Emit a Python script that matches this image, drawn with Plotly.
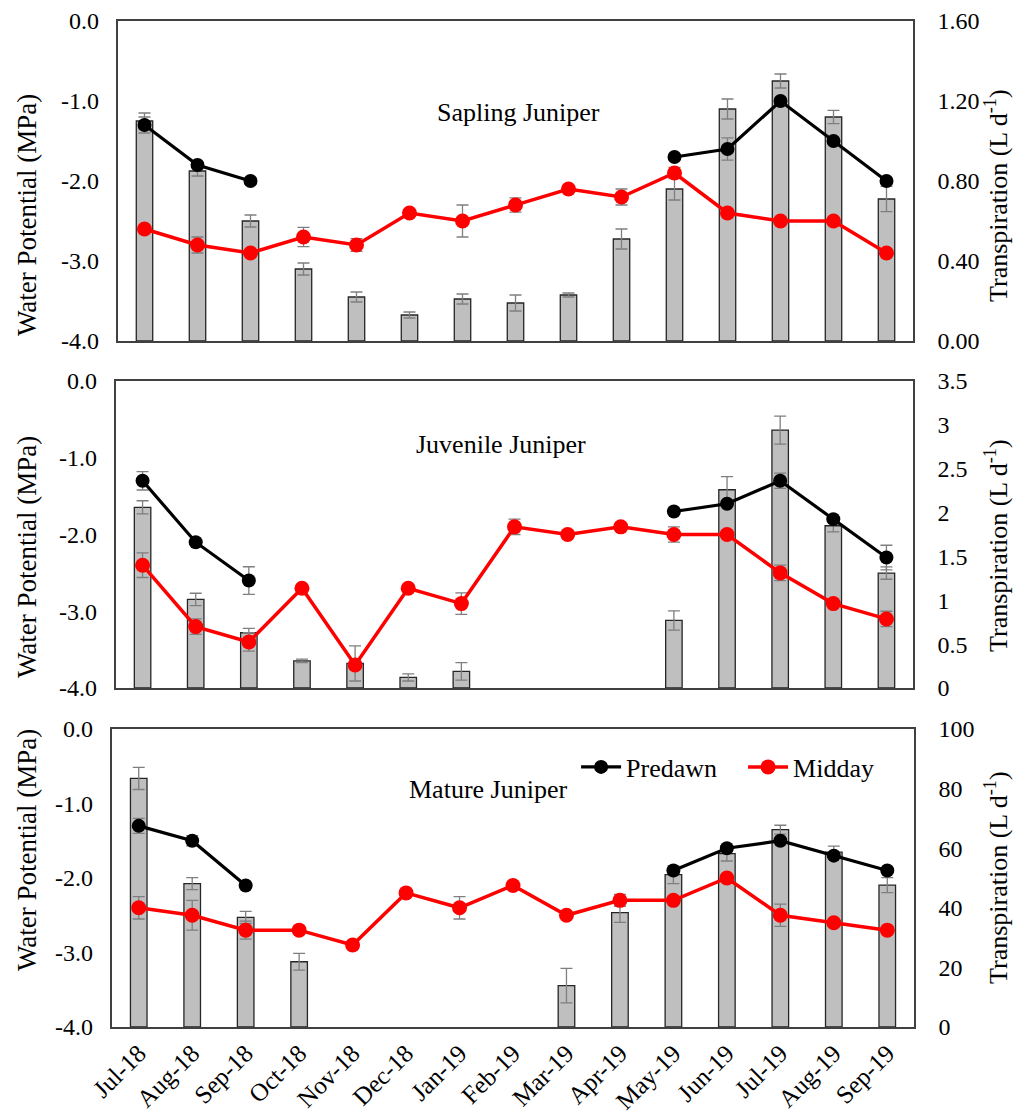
import plotly.graph_objects as go

# ---- data -------------------------------------------------------------
months = ['Jul-18', 'Aug-18', 'Sep-18', 'Oct-18', 'Nov-18', 'Dec-18', 'Jan-19',
          'Feb-19', 'Mar-19', 'Apr-19', 'May-19', 'Jun-19', 'Jul-19', 'Aug-19', 'Sep-19']

wp_ticks = [0.0, -1.0, -2.0, -3.0, -4.0]
wp_ticktext = ['0.0', '-1.0', '-2.0', '-3.0', '-4.0']

# Sapling juniper
sap_predawn = [-1.3, -1.8, -2.0, None, None, None, None, None, None, None, -1.7, -1.6, -1.0, -1.5, -2.0]
sap_predawn_err = [0.1, 0.03, 0.04, None, None, None, None, None, None, None, 0.02, 0.14, 0.03, 0.03, 0.02]
sap_midday = [-2.6, -2.8, -2.9, -2.7, -2.8, -2.4, -2.5, -2.3, -2.1, -2.2, -1.9, -2.4, -2.5, -2.5, -2.9]
sap_midday_err = [0.03, 0.1, 0.03, 0.12, 0.08, 0.04, 0.2, 0.09, 0.03, 0.1, 0.07, 0.03, 0.03, 0.03, 0.03]
sap_transp = [1.10, 0.85, 0.60, 0.36, 0.22, 0.13, 0.21, 0.19, 0.23, 0.51, 0.76, 1.16, 1.30, 1.12, 0.71]
sap_transp_err = [0.04, 0.025, 0.03, 0.03, 0.025, 0.015, 0.025, 0.04, 0.01, 0.05, 0.055, 0.05, 0.035, 0.033, 0.063]

# Juvenile juniper
juv_predawn = [-1.3, -2.1, -2.6, None, None, None, None, None, None, None, -1.7, -1.6, -1.3, -1.8, -2.3]
juv_predawn_err = [0.12, 0.02, 0.18, None, None, None, None, None, None, None, 0.02, 0.03, 0.1, 0.03, 0.16]
juv_midday = [-2.4, -3.2, -3.4, -2.7, -3.7, -2.7, -2.9, -1.9, -2.0, -1.9, -2.0, -2.0, -2.5, -2.9, -3.1]
juv_midday_err = [0.16, 0.1, 0.12, 0.03, 0.05, 0.03, 0.14, 0.1, 0.05, 0.03, 0.1, 0.03, 0.1, 0.03, 0.1]
juv_transp = [2.06, 1.01, 0.63, 0.31, 0.28, 0.12, 0.19, None, None, None, 0.77, 2.26, 2.94, 1.85, 1.31]
juv_transp_err = [0.075, 0.07, 0.05, 0.02, 0.2, 0.04, 0.1, None, None, None, 0.11, 0.15, 0.16, 0.07, 0.07]

# Mature juniper
mat_predawn = [-1.3, -1.5, -2.1, None, None, None, None, None, None, None, -1.9, -1.6, -1.5, -1.7, -1.9]
mat_predawn_err = [0.1, 0.07, 0.02, None, None, None, None, None, None, None, 0.03, 0.03, 0.03, 0.03, 0.03]
mat_midday = [-2.4, -2.5, -2.7, -2.7, -2.9, -2.2, -2.4, -2.1, -2.5, -2.3, -2.3, -2.0, -2.5, -2.6, -2.7]
mat_midday_err = [0.15, 0.2, 0.12, 0.02, 0.05, 0.02, 0.15, 0.02, 0.02, 0.08, 0.02, 0.02, 0.15, 0.02, 0.02]
mat_transp = [83.4, 48.1, 36.8, 21.9, None, None, None, None, 13.9, 38.4, 51.1, 58.2, 66.2, 58.7, 47.6]
mat_transp_err = [3.7, 2.0, 2.0, 2.8, None, None, None, None, 5.8, 3.3, 3.0, 2.5, 1.5, 2.0, 2.5]

panel_titles = ['Sapling Juniper', 'Juvenile Juniper', 'Mature Juniper']

# ---- styling ----------------------------------------------------------
W, H = 1016, 1116
FONT = 'Liberation Serif'
FRAME = '#404040'
ERR = '#7F7F7F'

# pixel boxes of the three panels: (left, right, top, bottom)
boxes = [(118, 913, 21, 341), (116, 913, 381, 688), (112, 914, 729, 1027)]

panels = [
    dict(pre=sap_predawn, pre_e=sap_predawn_err, mid=sap_midday, mid_e=sap_midday_err,
         tr=sap_transp, tr_e=sap_transp_err, trange=[0, 1.6], dtick=0.4, tfmt='.2f'),
    dict(pre=juv_predawn, pre_e=juv_predawn_err, mid=juv_midday, mid_e=juv_midday_err,
         tr=juv_transp, tr_e=juv_transp_err, trange=[0, 3.5], dtick=0.5, tfmt=''),
    dict(pre=mat_predawn, pre_e=mat_predawn_err, mid=mat_midday, mid_e=mat_midday_err,
         tr=mat_transp, tr_e=mat_transp_err, trange=[0, 100], dtick=20, tfmt=''),
]

fig = go.Figure()
layout = dict(
    template='none',
    width=W, height=H, margin=dict(l=0, r=0, t=0, b=0, pad=0),
    paper_bgcolor='white', plot_bgcolor='white',
    font=dict(family=FONT, size=24, color='black'),
    showlegend=True,
    legend=dict(orientation='h', x=0.567, y=1 - 767 / H, xanchor='left', yanchor='middle',
                font=dict(family=FONT, size=26, color='black'), bgcolor='rgba(0,0,0,0)',
                borderwidth=0, itemwidth=40, tracegroupgap=0,
                entrywidth=112, entrywidthmode='pixels'),
    annotations=[],
)


def errs(vals):
    return [0 if v is None else v for v in vals]


for i, (p, (l, r, t, b)) in enumerate(zip(panels, boxes)):
    n = i + 1
    xa = 'x' if n == 1 else f'x{n}'
    xkey = 'xaxis' if n == 1 else f'xaxis{n}'
    ty = 2 * i + 1           # transpiration axis (base, right side)
    wy = 2 * i + 2           # water potential axis (overlay, left side)
    ty_ref = 'y' if ty == 1 else f'y{ty}'
    wy_ref = f'y{wy}'
    tkey = 'yaxis' if ty == 1 else f'yaxis{ty}'
    wkey = f'yaxis{wy}'
    last = (n == 3)

    fig.add_trace(go.Bar(
        x=months, y=p['tr'], xaxis=xa, yaxis=ty_ref, width=0.31,
        marker=dict(color='#BFBFBF', line=dict(color='#262626', width=1.3)),
        error_y=dict(type='data', array=errs(p['tr_e']), visible=True,
                     color=ERR, thickness=1.3, width=6),
        showlegend=False, name='Transpiration'))

    fig.add_trace(go.Scatter(
        x=months, y=p['pre'], xaxis=xa, yaxis=wy_ref, mode='lines+markers',
        line=dict(color='black', width=3.2), marker=dict(color='black', size=14),
        error_y=dict(type='data', array=errs(p['pre_e']), visible=True,
                     color=ERR, thickness=1.3, width=6),
        connectgaps=False, name='Predawn', showlegend=last))

    fig.add_trace(go.Scatter(
        x=months, y=p['mid'], xaxis=xa, yaxis=wy_ref, mode='lines+markers',
        line=dict(color='#FF0000', width=3.5), marker=dict(color='#FF0000', size=15),
        error_y=dict(type='data', array=errs(p['mid_e']), visible=True,
                     color=ERR, thickness=1.3, width=6),
        connectgaps=False, name='Midday', showlegend=last))

    layout[xkey] = dict(
        domain=[l / W, r / W], anchor=ty_ref, type='category', automargin=False,
        categoryorder='array', categoryarray=months, range=[-0.5, 14.5],
        showline=True, linecolor=FRAME, linewidth=1.5, mirror=True,
        showgrid=False, zeroline=False, ticks='',
        showticklabels=last, tickangle=-45, tickfont=dict(size=25, family=FONT),
    )
    layout[tkey] = dict(
        domain=[1 - b / H, 1 - t / H], anchor=xa, side='right', automargin=False,
        range=p['trange'], dtick=p['dtick'], tick0=0, tickformat=p['tfmt'],
        showline=True, linecolor=FRAME, linewidth=1.5, mirror=True,
        showgrid=False, zeroline=False, ticks='', ticklabelstandoff=18,
        tickfont=dict(size=24, family=FONT),
    )
    layout[wkey] = dict(
        overlaying=ty_ref, anchor=xa, side='left', range=[-4, 0], automargin=False,
        tickvals=wp_ticks, ticktext=wp_ticktext,
        showline=False, showgrid=False, zeroline=False, ticks='', ticklabelstandoff=18,
        tickfont=dict(size=24, family=FONT),
    )

    # panel caption
    cap_pos = [(518, 113), (501, 444), (488, 789)][i]
    layout['annotations'].append(dict(
        text=panel_titles[i], x=cap_pos[0] / W, y=1 - cap_pos[1] / H,
        xref='paper', yref='paper', xanchor='center', yanchor='middle', showarrow=False,
        font=dict(family=FONT, size=26, color='black')))

    # axis titles
    left_c = [215, 557, 850][i]
    right_c = [196, 546, 878][i]
    layout['annotations'].append(dict(
        text='Water Potential (MPa)', textangle=-90, x=27 / W, y=1 - left_c / H,
        xref='paper', yref='paper', xanchor='center', yanchor='middle', showarrow=False,
        font=dict(family=FONT, size=27, color='black')))
    layout['annotations'].append(dict(
        text='Transpiration (L d<sup>-1</sup>)', textangle=-90, x=996 / W, y=1 - right_c / H,
        xref='paper', yref='paper', xanchor='center', yanchor='middle', showarrow=False,
        font=dict(family=FONT, size=26, color='black')))

fig.update_layout(**layout)
fig.write_html('out.html')
